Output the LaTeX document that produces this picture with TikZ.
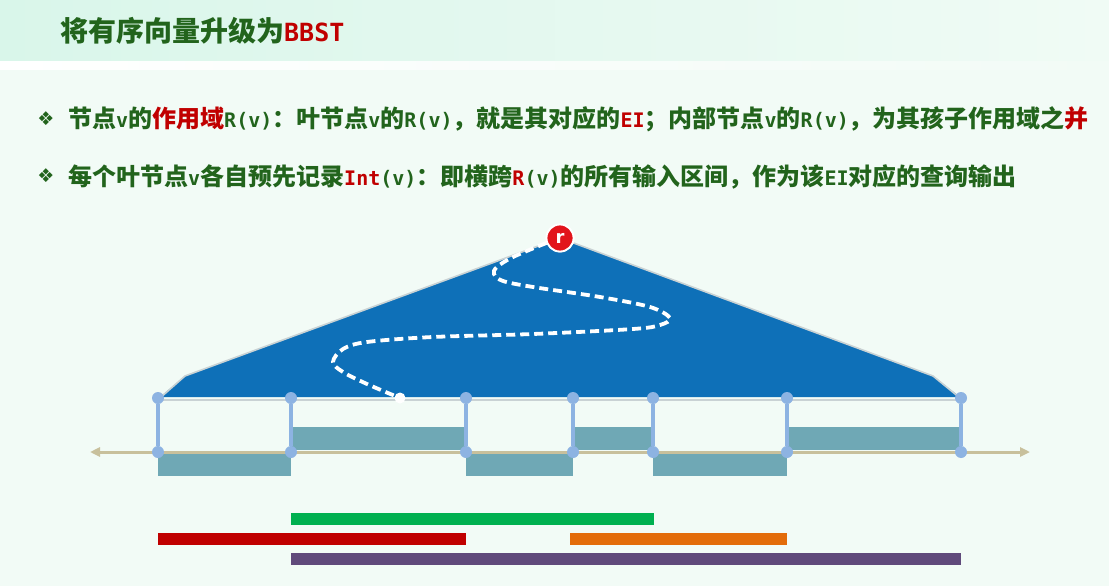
\documentclass[tikz,border=0pt]{standalone}
\usepackage{fontspec}
\newfontfamily\cjk{Noto Sans CJK SC}
\newfontfamily\mono{DejaVu Sans Mono}
\newfontfamily\dv{DejaVu Sans}
\usetikzlibrary{arrows.meta}
\definecolor{bg}{HTML}{F2FBF6}
\definecolor{bandA}{HTML}{D9F6EA}
\definecolor{bandB}{HTML}{F0FBF5}
\definecolor{tgreen}{HTML}{22641C}
\definecolor{tred}{HTML}{C00000}
\definecolor{treeblue}{HTML}{0E70B8}
\definecolor{treeedge}{HTML}{C9D2D4}
\definecolor{leafblue}{HTML}{8DB3E2}
\definecolor{axistan}{HTML}{C8C09C}
\definecolor{teal}{HTML}{6FA8B5}
\definecolor{rred}{HTML}{E2141B}
\definecolor{bgreen}{HTML}{00B050}
\definecolor{bred}{HTML}{C00000}
\definecolor{borange}{HTML}{E36C0A}
\definecolor{bpurple}{HTML}{604A7B}
\newcommand\mylat[1]{{\mono\bfseries\fontsize{20}{24}\selectfont #1}}
\newcommand\myredlat[1]{{\mono\bfseries\fontsize{20}{24}\selectfont\color{tred}#1}}
\begin{document}
\begin{tikzpicture}[x=1pt,y=-1pt,
  txt/.style={anchor=base west, inner sep=0pt, text=tgreen, font=\cjk\bfseries\fontsize{24}{28}\selectfont},
  bullet/.style={inner sep=0pt, text=tgreen, font=\dv\fontsize{19}{19}\selectfont},
  leafdot/.style={circle, fill=leafblue, inner sep=0pt, minimum size=12pt},
  leafline/.style={draw=leafblue, line width=4pt},
  axisline/.style={draw=axistan, line width=3pt, {Triangle[length=10pt,width=9pt]}-{Triangle[length=10pt,width=9pt]}},
  seg/.style={fill=teal},
  rnode/.style={circle, fill=rred, draw=white, line width=1.8pt, inner sep=0pt, minimum size=27pt,
      text=white, font=\dv\bfseries\fontsize{18}{18}\selectfont}
]
\useasboundingbox (0,0) rectangle (1109,586);
\fill[bg] (0,0) rectangle (1109,586);
\shade[left color=bandA,right color=bandB] (0,0) rectangle (1109,62);
\shade[left color=white,right color=bg] (0,62) rectangle (1109,70);

% title
\node[anchor=base west, inner sep=0pt, text=tgreen, font=\cjk\bfseries\fontsize{28}{32}\selectfont] (title) at (60,42)
  {将有序向量升级为{\mono\bfseries\fontsize{25}{28}\selectfont\color{tred}BBST}};

% bullets
\node[bullet] (bu1) at (46,119) {❖};
\node[bullet] (bu2) at (46,176) {❖};
\node[txt] (l1) at (68,128) {节点\mylat{v}的{\color{tred}作用域}\mylat{R(v)}：叶节点\mylat{v}的\mylat{R(v)}，就是其对应的\myredlat{EI}；内部节点\mylat{v}的\mylat{R(v)}，为其孩子作用域之{\color{tred}并}};
\node[txt] (l2) at (68,185) {每个叶节点\mylat{v}各自预先记录\myredlat{Int}\mylat{(v)}：即横跨\myredlat{R}\mylat{(v)}的所有输入区间，作为该\mylat{EI}对应的查询输出};

% tree
\fill[treeblue] (160,397) -- (185,376) -- (560,238) -- (933,376) -- (960,397) -- cycle;
\draw[treeedge, line width=1.6pt] (160,398) -- (185,376) -- (560,238) -- (933,376) -- (960,398);
\draw[treeedge, line width=2pt] (160,399.5) -- (960,399.5);

% teal segments
\fill[seg] (158,454) rectangle (291,476);
\fill[seg] (466,454) rectangle (573,476);
\fill[seg] (653,454) rectangle (787,476);
\fill[seg] (291,427) rectangle (466,450);
\fill[seg] (573,427) rectangle (653,450);
\fill[seg] (787,427) rectangle (961,450);

% axis
\coordinate (axL) at (90,452);
\coordinate (axR) at (1030,452);
\draw[axisline] (axL) -- (axR);

% leaves
\foreach \i/\x in {1/158,2/291,3/466,4/573,5/653,6/787,7/961}{
  \node[leafdot] (t\i) at (\x,398) {};
  \node[leafdot] (b\i) at (\x,452) {};
  \draw[leafline] (t\i) -- (b\i);
}

% search path
\node[circle, fill=white, inner sep=0pt, minimum size=11pt] (e) at (400,398) {};
\node[rnode] (r) at (560,238) {r};
\draw[white, line width=3.8pt, dash pattern=on 9pt off 5pt] plot[smooth, tension=0.55] coordinates {
  (r.200) (513,257) (497,267) (494,274) (503,281) (533,287) (600,297) (650,307) (670,318)
  (660,325) (633,329) (533,334) (433,337) (367,342) (343,349) (333,362) (343,372) (367,384) (e)};
\node[rnode] at (r) {r};

% query intervals
\fill[bgreen] (291,513) rectangle (654,525);
\fill[bred] (158,533) rectangle (466,545);
\fill[borange] (570,533) rectangle (787,545);
\fill[bpurple] (291,553) rectangle (961,565);
\end{tikzpicture}
\end{document}
